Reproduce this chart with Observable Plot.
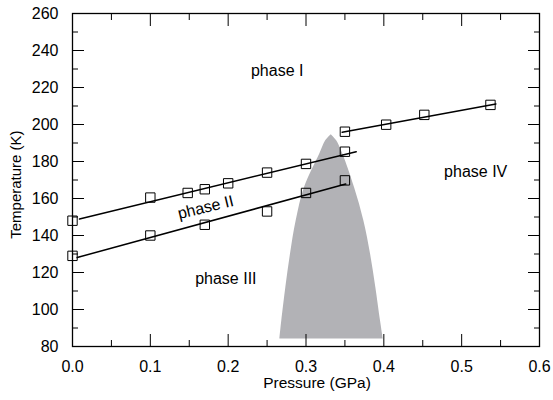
<!DOCTYPE html>
<html>
<head>
<meta charset="utf-8">
<script src="https://cdn.jsdelivr.net/npm/d3@7"></script>
<script src="https://cdn.jsdelivr.net/npm/@observablehq/plot@0.6"></script>
<style>
  body { margin: 0; background: #fff; }
  #chart svg { font-family: "Liberation Sans", Arial, sans-serif; }
</style>
</head>
<body>
<div id="chart"></div>
<script>
// Phase I / phase II boundary (measured points)
const boundaryI_II_P = [0.0, 0.1, 0.148, 0.17, 0.2, 0.25, 0.3, 0.35];
const boundaryI_II_T = [148, 160.5, 163, 165, 168.2, 174, 178.7, 185.3];
// Phase II / phase III boundary
const boundaryII_III_P = [0.0, 0.1, 0.17, 0.25, 0.3, 0.35];
const boundaryII_III_T = [129, 140, 145.8, 153, 163, 169.8];
// Phase I / phase IV boundary
const boundaryI_IV_P = [0.35, 0.403, 0.452, 0.537];
const boundaryI_IV_T = [196.1, 199.9, 205.2, 210.6];

// Fitted lines (end points)
const fitI_II_P = [0.009, 0.3645];
const fitI_II_T = [148.9, 185.3];
const fitII_III_P = [0.006, 0.351];
const fitII_III_T = [128.1, 167.8];
const fitI_IV_P = [0.3465, 0.544];
const fitI_IV_T = [195.8, 211.1];

// Grey dome (coexistence region): temperature levels and left / right pressures
const domeT = [84, 93.9, 111.9, 130, 148, 166, 184.1, 191.3, 194.5];
const domeLeftP = [0.2664, 0.2689, 0.2741, 0.2801, 0.2874, 0.2981, 0.3177, 0.3255, 0.3324];
const domeRightP = [0.3992, 0.3957, 0.3897, 0.3829, 0.3743, 0.3623, 0.3473, 0.3392, 0.3324];

// Phase labels
const phaseNames = ["phase I", "phase II", "phase III", "phase IV"];
const phaseP = [0.263, 0.171, 0.197, 0.518];
const phaseT = [229.2, 155.2, 116.8, 174.5];
const phaseRotate = [0, -13.7, 0, 0];

// Axis ticks
const xMajor = [0, 0.1, 0.2, 0.3, 0.4, 0.5, 0.6];
const xMinor = [0.05, 0.15, 0.25, 0.35, 0.45, 0.55];
const yMajor = [80, 100, 120, 140, 160, 180, 200, 220, 240, 260];
const yMinor = [90, 110, 130, 150, 170, 190, 210, 230, 250];

const toPts = (P, T) => P.map((p, i) => ({p, t: T[i]}));
const pts = [
  ...toPts(boundaryI_II_P, boundaryI_II_T),
  ...toPts(boundaryII_III_P, boundaryII_III_T),
  ...toPts(boundaryI_IV_P, boundaryI_IV_T)
];
const fits = [
  {P: fitI_II_P, T: fitI_II_T},
  {P: fitII_III_P, T: fitII_III_T},
  {P: fitI_IV_P, T: fitI_IV_T}
];
const dome = domeT.map((t, i) => ({t, l: domeLeftP[i], r: domeRightP[i]}));
const phases = phaseNames.map((name, i) => ({name, p: phaseP[i], t: phaseT[i], rot: phaseRotate[i]}));

const FS = 16;
const tickAxes = [];
for (const anchor of ["bottom", "top"]) {
  tickAxes.push(Plot.axisX(xMajor, {anchor, tickSize: -12, text: null, label: null, strokeWidth: 1}));
  tickAxes.push(Plot.axisX(xMinor, {anchor, tickSize: -6, text: null, label: null, strokeWidth: 1}));
}
for (const anchor of ["left", "right"]) {
  tickAxes.push(Plot.axisY(yMajor, {anchor, tickSize: -12, text: null, label: null, strokeWidth: 1}));
  tickAxes.push(Plot.axisY(yMinor, {anchor, tickSize: -6, text: null, label: null, strokeWidth: 1}));
}

const chart = Plot.plot({
  width: 553,
  height: 400,
  marginLeft: 72,
  marginRight: 14,
  marginTop: 13,
  marginBottom: 54,
  x: {domain: [0, 0.6]},
  y: {domain: [80, 260]},
  style: {fontFamily: '"Liberation Sans", Arial, sans-serif', color: "#000", background: "#fff"},
  marks: [
    Plot.areaX(dome, {y: "t", x1: "l", x2: "r", fill: "#b2b2b6", curve: "catmull-rom"}),
    ...fits.map(f => Plot.line(toPts(f.P, f.T), {x: "p", y: "t", stroke: "#000", strokeWidth: 1.5})),
    Plot.dot(pts, {x: "p", y: "t", symbol: "square", r: 5.3, stroke: "#000", strokeWidth: 1, fill: "none"}),
    ...phases.map(d => Plot.text([d], {x: "p", y: "t", text: "name", rotate: d.rot, fontSize: FS, fill: "#000"})),
    Plot.frame({stroke: "#000", strokeWidth: 1.3}),
    ...tickAxes,
    Plot.axisX(xMajor, {anchor: "bottom", tickSize: 0, tickPadding: 14, tickFormat: d3.format(".1f"), label: null, fontSize: FS}),
    Plot.axisY(yMajor, {anchor: "left", tickSize: 0, tickPadding: 14, tickFormat: d => String(d), label: null, fontSize: FS}),
    Plot.text(["Pressure (GPa)"], {frameAnchor: "bottom", textAnchor: "middle", lineAnchor: "middle", dx: 11, dy: 37, text: d => d, fontSize: 15.5, fill: "#000"}),
    Plot.text(["Temperature (K)"], {frameAnchor: "left", textAnchor: "middle", lineAnchor: "middle", dx: -56, dy: 4.6, rotate: -90, text: d => d, fontSize: 15, fill: "#000"})
  ]
});
document.getElementById("chart").appendChild(chart);
</script>
</body>
</html>
